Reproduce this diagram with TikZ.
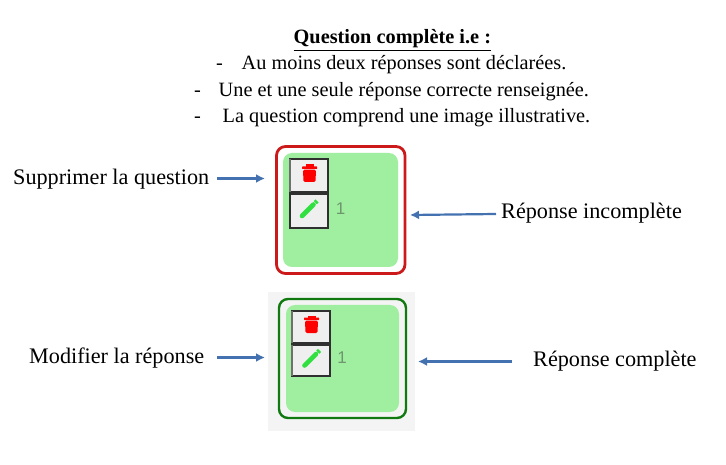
\documentclass[tikz,border=0pt]{standalone}
\usepackage{fontspec}
\setmainfont{Liberation Serif}
\newfontfamily\numfont{Liberation Sans}
\usetikzlibrary{arrows.meta}
\definecolor{panelgreen}{HTML}{A0EFA0}
\definecolor{arrowblue}{HTML}{4472B0}
\definecolor{redframe}{HTML}{CC1A1A}
\definecolor{greenframe}{HTML}{107A10}
\definecolor{btnfill}{HTML}{EFEFEF}
\definecolor{btnedge}{HTML}{303030}
\definecolor{btnside}{HTML}{707070}
\definecolor{pencil}{HTML}{30E040}
\definecolor{halo}{HTML}{F4F4F4}
\definecolor{numcol}{HTML}{6E966E}
\tikzset{
  x=1pt,y=-1pt,
  txt/.style={font=\fontsize{20.3}{23}\selectfont,anchor=base west,inner sep=0pt,text=black},
  lbl/.style={font=\fontsize{22.2}{25}\selectfont,anchor=base west,inner sep=0pt,text=black},
  link/.style={draw=arrowblue,line width=2.2pt,-{Latex[length=9pt,width=9pt]}},
  panel/.style={fill=panelgreen,rounded corners=9pt,draw=none},
  btn/.style={draw=btnedge,fill=btnfill,line width=2pt},
  btnleft/.style={draw=btnside,line width=2pt},
  num/.style={font=\numfont\fontsize{17}{18}\selectfont,text=numcol,inner sep=0pt}
}
\newcommand{\trashicon}[1]{%
  \begin{scope}[shift={(#1)}]
    \fill[red,rounded corners=0.5pt] (-7.5,-6.5) rectangle (7.5,-4);
    \fill[red] (-4,-8.5) rectangle (4,-6);
    \fill[red,rounded corners=1.5pt] (-6.5,-3.4) -- (6.5,-3.4) -- (6,9) -- (-6,9) -- cycle;
  \end{scope}}
\newcommand{\pencilicon}[1]{%
  \begin{scope}[shift={(#1)}]
    \draw[pencil,line width=4.6pt,line cap=round] (-7,7) -- (4.5,-4.5);
    \draw[pencil,line width=4.4pt] (6.3,-6.3) -- (8,-8);
  \end{scope}}
\begin{document}
\begin{tikzpicture}
\useasboundingbox (0,0) rectangle (726,465);
\fill[white] (0,0) rectangle (726,465);
% header
\node[txt,font=\fontsize{20.3}{23}\selectfont\bfseries] (title) at (293.5,44) {\underline{Question complète i.e :}};
\node[txt] (d1) at (216,69.5) {-};
\node[txt] (l1) at (241.5,69.5) {Au moins deux réponses sont déclarées.};
\node[txt] (d2) at (194,96.5) {-};
\node[txt] (l2) at (218.5,96.5) {Une et une seule réponse correcte renseignée.};
\node[txt] (d3) at (194,122.5) {-};
\node[txt] (l3) at (222.5,122.5) {La question comprend une image illustrative.};
% top card
\draw[redframe,line width=2.8pt,rounded corners=9pt,fill=white] (276.5,146.5) rectangle (405,273.5);
\fill[panel] (283,153) rectangle (398,267);
\draw[btn] (289.5,159.5) rectangle (328,192.5);
\draw[btnleft] (289.5,159.5) -- (289.5,192.5);
\draw[btn] (289.5,194.5) rectangle (328,228);
\trashicon{309.5,173}
\pencilicon{309,209}
\node[num] (n1) at (340.5,209) {1};
% bottom card
\fill[halo] (268,292) rectangle (415,431);
\draw[greenframe,line width=2.4pt,rounded corners=9pt] (279,299) rectangle (406,418);
\fill[panel] (286,305) rectangle (399,412);
\draw[btn] (292,311) rectangle (330,343);
\draw[btnleft] (292,311) -- (292,343);
\draw[btn] (292,344.5) rectangle (330,375.5);
\draw[btnleft] (292,344.5) -- (292,375.5);
\trashicon{311.5,324}
\pencilicon{311.5,358.5}
\node[num] (n2) at (342,358) {1};
% labels
\node[lbl] (sup) at (13,185) {Supprimer la question};
\node[lbl] (inc) at (501,219) {Réponse incomplète};
\node[lbl] (mod) at (29,363) {Modifier la réponse};
\node[lbl] (com) at (533,366) {Réponse complète};
% arrows
\coordinate (a1s) at (217,178.5); \coordinate (a1e) at (265,178.5);
\coordinate (a2s) at (496,214);   \coordinate (a2e) at (410,215);
\coordinate (a3s) at (217,357.5); \coordinate (a3e) at (265,357.5);
\coordinate (a4s) at (512,361.5); \coordinate (a4e) at (418,361.5);
\draw[link] (a1s) -- (a1e);
\draw[link] (a2s) -- (a2e);
\draw[link] (a3s) -- (a3e);
\draw[link] (a4s) -- (a4e);
\end{tikzpicture}
\end{document}
